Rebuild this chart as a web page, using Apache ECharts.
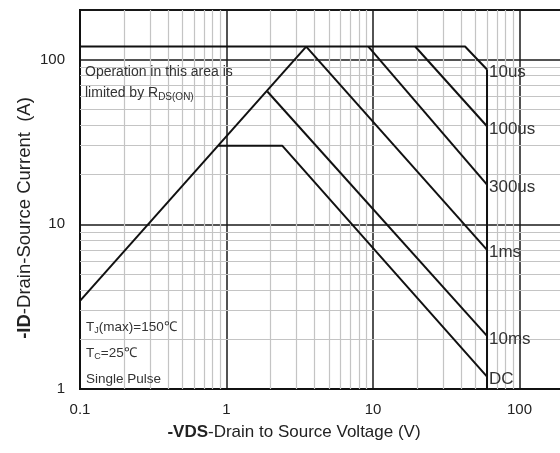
<!DOCTYPE html>
<html>
<head>
<meta charset="utf-8">
<script src="https://cdn.jsdelivr.net/npm/echarts@6/dist/echarts.min.js"></script>
<style>
  html, body { margin: 0; padding: 0; background: #fff; }
  #chart { width: 560px; height: 453px; }
</style>
</head>
<body>
<div id="chart"></div>
<script>
// Safe operating area curves: -VDS (V) vs -ID (A), one polyline per pulse width
const pulseLabels = ['10us', '100us', '300us', '1ms', '10ms', 'DC'];
const pulseVds = [
  [0.1, 42.5, 60],
  [19.4, 60],
  [9.3, 60],
  [3.5, 60],
  [1.9, 60],
  [0.88, 2.4, 60]
];
const pulseId = [
  [120, 120, 87],
  [120, 39.4],
  [120, 17.4],
  [120, 7.0],
  [64, 2.1],
  [30, 30, 1.19]
];
// RDS(on) limited region boundary
const rdsVds = [0.1, 3.5];
const rdsId = [3.43, 120];
// Maximum drain-source voltage boundary
const vmaxVds = [60, 60];
const vmaxId = [87, 1];

// Axis ranges
const xRange = [0.1, 1000];
const yRange = [1, 200];

const FONT = '"Liberation Sans", Arial, sans-serif';
const INK = '#111';
const TEXT = '#333';

function zip(xs, ys) { return xs.map((x, i) => [x, ys[i]]); }

// Minor log grid values (2..9 within each decade)
function minorValues(lo, hi) {
  const out = [];
  for (let d = lo; d < hi; d *= 10) {
    for (let k = 2; k <= 9; k++) {
      const v = +(k * d).toPrecision(6);
      if (v < hi) out.push(v);
    }
  }
  return out;
}
const minorX = minorValues(xRange[0], xRange[1]);
const minorY = minorValues(yRange[0], yRange[1]);

function isDecade(v) {
  const l = Math.log10(v);
  return Math.abs(l - Math.round(l)) < 1e-6;
}
function decadeLabel(v) {
  if (!isDecade(v)) return '';
  const p = Math.round(Math.log10(v));
  return p < 0 ? (Math.pow(10, p)).toFixed(-p) : String(Math.pow(10, p));
}

const series = [];

// Light minor grid drawn as mark lines
series.push({
  type: 'line',
  data: [[xRange[0], yRange[0]]],
  symbol: 'none',
  lineStyle: { opacity: 0 },
  silent: true,
  z: 1,
  markLine: {
    silent: true,
    symbol: ['none', 'none'],
    label: { show: false },
    animation: false,
    z: 1,
    lineStyle: { color: '#c4c4c4', width: 1.2, type: 'solid' },
    emphasis: { disabled: true },
    data: minorX.map(v => ({ xAxis: v })).concat(minorY.map(v => ({ yAxis: v })))
  }
});

const curveStyle = { color: INK, width: 2 };

pulseLabels.forEach((name, i) => {
  const pts = zip(pulseVds[i], pulseId[i]);
  const last = pts.length - 1;
  series.push({
    name: name,
    type: 'line',
    symbol: 'circle',
    symbolSize: 0,
    showSymbol: true,
    z: 10,
    lineStyle: curveStyle,
    itemStyle: { color: INK },
    label: {
      show: true,
      position: 'right',
      distance: 2,
      offset: [0, 3],
      color: TEXT,
      fontSize: 17,
      fontFamily: FONT,
      formatter: p => (p.dataIndex === last ? name : '')
    },
    data: pts
  });
});

series.push({
  type: 'line', symbol: 'none', z: 10, lineStyle: curveStyle,
  data: zip(rdsVds, rdsId)
});
series.push({
  type: 'line', symbol: 'none', z: 10, lineStyle: curveStyle,
  data: zip(vmaxVds, vmaxId)
});

// Text measurement for placing subscripts after their base text
const measureCtx = document.createElement('canvas').getContext('2d');
function textWidth(str, size) {
  measureCtx.font = size + 'px ' + FONT;
  return measureCtx.measureText(str).width;
}

function textEl(x, y, str, size, extra) {
  return Object.assign({
    type: 'text', x: x, y: y, silent: true, z: 20,
    style: Object.assign({
      text: str, fontSize: size, fontFamily: FONT, fill: TEXT,
      verticalAlign: 'middle', align: 'left'
    }, extra || {})
  });
}

// A line of text with one subscript segment: base + sub + tail
function subscriptLine(x, y, base, sub, tail, size) {
  const subSize = Math.round(size * 0.68);
  const w1 = textWidth(base, size);
  const w2 = textWidth(sub, subSize);
  const els = [textEl(x, y, base, size), textEl(x + w1, y + 4, sub, subSize)];
  if (tail) els.push(textEl(x + w1 + w2, y, tail, size));
  return els;
}

const graphics = [].concat(
  [textEl(85, 72, 'Operation in this area is', 14)],
  subscriptLine(85, 93, 'limited by R', 'DS(ON)', '', 14),
  subscriptLine(86, 327, 'T', 'J', '(max)=150\u2103', 13.5),
  subscriptLine(86, 353, 'T', 'C', '=25\u2103', 13.5),
  [textEl(86, 379, 'Single Pulse', 13.5)],
  [{
    type: 'text', x: 294, y: 432, silent: true,
    style: {
      text: '{b|-VDS}-Drain to Source Voltage (V)',
      fontSize: 17, fontFamily: FONT, fill: '#222',
      align: 'center', verticalAlign: 'middle',
      rich: { b: { fontWeight: 'bold', fontSize: 17, fontFamily: FONT, fill: '#222' } }
    }
  }, {
    type: 'text', x: 25, y: 218, rotation: Math.PI / 2, silent: true,
    style: {
      text: '{b|-ID}-Drain-Source Current  (A)',
      fontSize: 18.5, fontFamily: FONT, fill: '#222',
      align: 'center', verticalAlign: 'middle',
      rich: { b: { fontWeight: 'bold', fontSize: 18.5, fontFamily: FONT, fill: '#222' } }
    }
  }]
);

const chart = echarts.init(document.getElementById('chart'), null, { renderer: 'canvas' });
chart.setOption({
  animation: false,
  backgroundColor: '#fff',
  grid: {
    left: 80, top: 10, bottom: 64, right: -106,
    outerBoundsMode: 'none',
    containLabel: false,
    show: true, borderColor: INK, borderWidth: 2
  },
  xAxis: {
    type: 'log', logBase: 10, min: xRange[0], max: xRange[1],
    axisLine: { show: true, lineStyle: { color: INK, width: 2 } },
    axisTick: { show: false },
    axisLabel: {
      margin: 13, fontSize: 15, color: '#222', fontFamily: FONT,
      formatter: decadeLabel
    },
    splitLine: { show: true, lineStyle: { color: '#1a1a1a', width: 1.5 } }
  },
  yAxis: {
    type: 'log', logBase: 10, min: yRange[0], max: yRange[1],
    axisLine: { show: true, lineStyle: { color: INK, width: 2 } },
    axisTick: { show: false },
    axisLabel: {
      margin: 15, fontSize: 15, color: '#222', fontFamily: FONT,
      formatter: decadeLabel
    },
    splitLine: { show: true, lineStyle: { color: '#1a1a1a', width: 1.5 } }
  },
  series: series,
  graphic: graphics
});
</script>
</body>
</html>
